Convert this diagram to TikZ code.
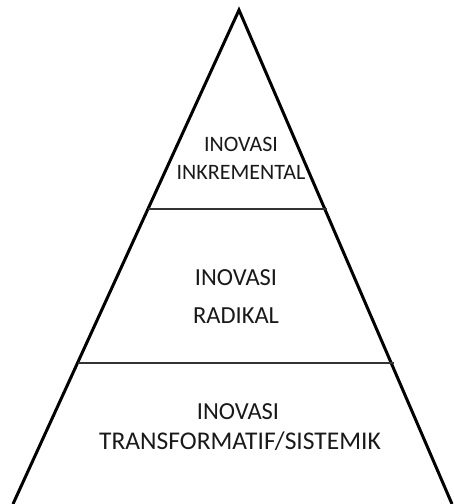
\documentclass[tikz,border=0pt]{standalone}
\usepackage{fontspec}
\setmainfont{Carlito}
\begin{document}
\begin{tikzpicture}[x=1pt,y=-1pt,
  side/.style={line width=3pt,black},
  divider/.style={line width=1.6pt,black!80},
  lbl/.style={inner sep=0pt,anchor=center,text=black!90}]
\useasboundingbox (0,0) rectangle (454,504);
\coordinate (apex) at (239,10);
\coordinate (bl) at (13,504);
\coordinate (br) at (452,504);
\coordinate (d1l) at (148,209);
\coordinate (d1r) at (327,209);
\coordinate (d2l) at (78,363);
\coordinate (d2r) at (394,363);
\draw[side,line join=miter] (bl) -- (apex) -- (br);
\draw[divider] (d1l) -- (d1r);
\draw[divider] (d2l) -- (d2r);
\node[lbl,font=\fontsize{22}{26}\selectfont] (t1) at (241,144) {INOVASI};
\node[lbl,font=\fontsize{22}{26}\selectfont] (t2) at (241,172.5) {INKREMENTAL};
\node[lbl,font=\fontsize{24.5}{28}\selectfont] (m1) at (236,278) {INOVASI};
\node[lbl,font=\fontsize{24.5}{28}\selectfont] (m2) at (236,316) {RADIKAL};
\node[lbl,font=\fontsize{24.5}{28}\selectfont] (b1) at (238,411.5) {INOVASI};
\node[lbl,font=\fontsize{25.5}{28}\selectfont] (b2) at (240,441) {TRANSFORMATIF/SISTEMIK};
\end{tikzpicture}
\end{document}
